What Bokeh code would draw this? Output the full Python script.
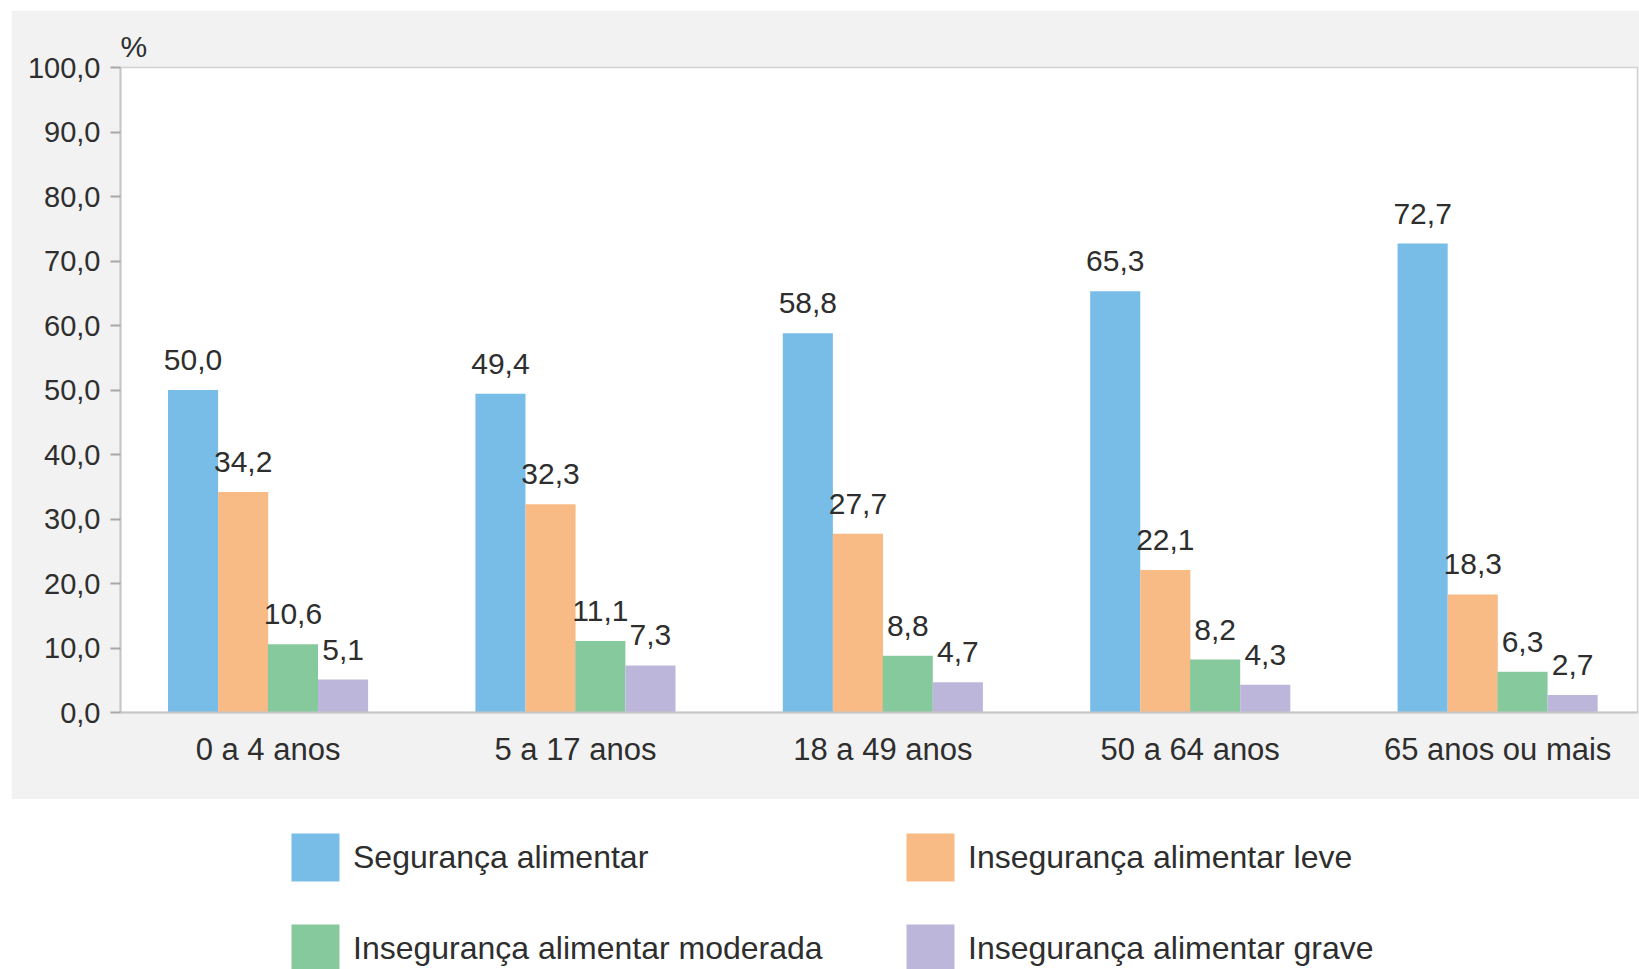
from bokeh.plotting import figure
from bokeh.layouts import column
from bokeh.models import Range1d, FixedTicker, Legend, LegendItem, ColumnDataSource
from bokeh.core.properties import value
from bokeh.transform import dodge
from bokeh.embed import file_html
from bokeh.resources import INLINE

categories = ["0 a 4 anos", "5 a 17 anos", "18 a 49 anos", "50 a 64 anos", "65 anos ou mais"]
series_names = ["Segurança alimentar", "Insegurança alimentar leve",
                "Insegurança alimentar moderada", "Insegurança alimentar grave"]
seguranca = [50.0, 49.4, 58.8, 65.3, 72.7]
leve = [34.2, 32.3, 27.7, 22.1, 18.3]
moderada = [10.6, 11.1, 8.8, 8.2, 6.3]
grave = [5.1, 7.3, 4.7, 4.3, 2.7]
y_ticks = [0, 10, 20, 30, 40, 50, 60, 70, 80, 90, 100]
colors = ["#78bde8", "#f9bb86", "#86c99c", "#bcb7da"]

FONT = "Liberation Sans"
TXT = "#2e2e2e"
GRAY_BG = "#f2f2f2"
AX = "#c6c6c6"

def fmt(v):
    return f"{v:.1f}".replace(".", ",")

series = [seguranca, leve, moderada, grave]
keys = ["seg", "leve", "mod", "grave"]
data = {"x": list(range(len(categories)))}
for k, s in zip(keys, series):
    data[k] = s
    data[k + "_lbl"] = [fmt(v) for v in s]
src = ColumnDataSource(data)

p = figure(width=1628, height=789, output_backend="svg", toolbar_location=None,
           x_range=Range1d(-0.48, 4.455), y_range=Range1d(0, 100),
           min_border_left=109, min_border_top=57, min_border_right=2, min_border_bottom=87,
           title="%", margin=(10, 0, 0, 11))
p.border_fill_color = GRAY_BG
p.background_fill_color = "white"
p.outline_line_color = "#d2d2d2"
p.outline_line_width = 1.5
p.grid.visible = False

p.title.text_font = FONT
p.title.text_font_size = "30px"
p.title.text_font_style = "normal"
p.title.text_color = TXT
p.title.align = "left"
p.title.standoff = 9

offsets = [-0.244, -0.081, 0.081, 0.244]
bar_w = 0.163
for k, off, c in zip(keys, offsets, colors):
    p.vbar(x=dodge("x", off), top=k, width=bar_w, bottom=0, source=src,
           fill_color=c, line_color=None)
    p.text(x=dodge("x", off), y=k, text=k + "_lbl", source=src,
           text_align="center", text_baseline="bottom", y_offset=-20,
           text_font=value(FONT), text_font_size="30px", text_color=TXT)

yax = p.yaxis[0]
yax.ticker = FixedTicker(ticks=y_ticks)
yax.major_label_overrides = {t: fmt(t) for t in y_ticks}
yax.minor_tick_line_color = None
yax.major_tick_out = 10
yax.major_tick_in = 0
yax.major_tick_line_color = "#a8a8a8"
yax.major_tick_line_width = 2
yax.axis_line_color = AX
yax.axis_line_width = 2
yax.major_label_standoff = 10
yax.major_label_text_font = FONT
yax.major_label_text_font_size = "29px"
yax.major_label_text_color = TXT

xax = p.xaxis[0]
xax.ticker = FixedTicker(ticks=data["x"])
xax.major_label_overrides = {i: c for i, c in enumerate(categories)}
xax.minor_tick_line_color = None
xax.major_tick_line_color = None
xax.major_tick_out = 0
xax.major_tick_in = 0
xax.axis_line_color = AX
xax.axis_line_width = 2
xax.major_label_standoff = 19
xax.major_label_text_font = FONT
xax.major_label_text_font_size = "31px"
xax.major_label_text_color = TXT

# legend panel
p2 = figure(width=1639, height=170, output_backend="svg", toolbar_location=None,
            x_axis_location=None, y_axis_location=None, min_border=0,
            x_range=Range1d(0, 1), y_range=Range1d(0, 1))
p2.outline_line_color = None
p2.grid.visible = False
p2.background_fill_color = "white"
p2.border_fill_color = "white"

dummies = []
for k, c in zip(keys, colors):
    r = p2.vbar(x="x", top=k, width=0.1, source=src, fill_color=c, line_color=None,
                visible=False)
    dummies.append(r)

def make_legend(idx, loc):
    lg = Legend(items=[LegendItem(label=series_names[i], renderers=[dummies[i]]) for i in idx],
                location=loc, orientation="vertical")
    lg.glyph_width = 60
    lg.glyph_height = 60
    lg.spacing = 31
    lg.padding = 0
    lg.margin = 0
    lg.label_standoff = 8
    lg.border_line_color = None
    lg.background_fill_alpha = 0
    lg.inactive_fill_alpha = 0
    lg.label_text_font = FONT
    lg.label_text_font_size = "32px"
    lg.label_text_color = TXT
    return lg

p2.add_layout(make_legend([0, 2], (176, -9)), "center")
p2.add_layout(make_legend([1, 3], (791, -9)), "center")

layout = column(p, p2, spacing=0)
open("out.html", "w").write(file_html(layout, INLINE))
